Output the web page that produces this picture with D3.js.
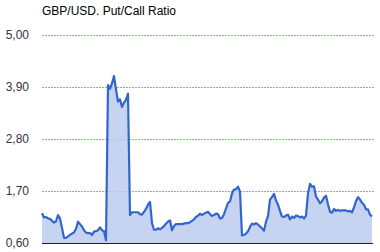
<!DOCTYPE html>
<html>
<head>
<meta charset="utf-8">
<script src="https://cdn.jsdelivr.net/npm/d3@7"></script>
<style>
  body { margin: 0; background: #fff; }
  text { font-family: "Liberation Sans", Arial, sans-serif; }
</style>
</head>
<body>
<svg width="380" height="252"></svg>
<script>
// Data
const title = "GBP/USD. Put/Call Ratio";
const yTicks = [0.6, 1.7, 2.8, 3.9, 5.0];
const ratio = [
  1.23, 1.14, 1.15, 1.12, 1.11, 1.07, 1.03, 1.06, 1.19, 1.12,
  0.92, 0.71, 0.71, 0.74, 0.77, 0.80, 0.82, 0.90, 1.05, 1.00,
  0.95, 0.87, 0.82, 0.81, 0.81, 0.77, 0.84, 0.85, 0.87, 0.93,
  0.87, 0.85, 0.66, 3.94, 3.86, 3.98, 4.13, 3.85, 3.59, 3.64,
  3.48, 3.57, 3.63, 3.76, 1.19, 1.25, 1.25, 1.25, 1.25, 1.21,
  1.20, 1.26, 1.32, 1.41, 1.47, 1.02, 0.88, 0.88, 0.91, 0.89,
  0.92, 0.96, 1.01, 1.05, 1.08, 0.87, 0.96, 1.00, 1.00, 1.00,
  1.00, 1.01, 1.02, 1.02, 1.04, 1.07, 1.10, 1.15, 1.18, 1.22,
  1.19, 1.22, 1.24, 1.26, 1.21, 1.17, 1.19, 1.22, 1.21, 1.12,
  1.13, 1.21, 1.33, 1.45, 1.48, 1.65, 1.73, 1.74, 1.79, 1.69,
  0.76, 0.77, 0.80, 0.85, 0.94, 1.01, 0.99, 1.02, 0.99, 0.95,
  0.91, 0.86, 1.05, 1.17, 1.52, 1.57, 1.64, 1.50, 1.41, 1.28,
  1.16, 1.15, 1.18, 1.20, 1.10, 1.16, 1.13, 1.18, 1.17, 1.14,
  1.16, 1.12, 1.18, 1.65, 1.85, 1.79, 1.80, 1.58, 1.52, 1.44,
  1.48, 1.56, 1.60, 1.42, 1.26, 1.24, 1.32, 1.28, 1.30, 1.28,
  1.29, 1.29, 1.29, 1.27, 1.28, 1.25, 1.35, 1.49, 1.57, 1.52,
  1.45, 1.41, 1.31, 1.31, 1.20, 1.16
];

const svg = d3.select("svg");
const plotLeft = 42, plotRight = 372, plotTop = 35, plotBottom = 243;

const x = d3.scaleLinear().domain([0, ratio.length - 1]).range([plotLeft, plotRight]);
const y = d3.scaleLinear().domain([0.6, 5.0]).range([plotBottom, plotTop]);
const fmt = v => d3.format(".2f")(v).replace(".", ",");

// title
svg.append("text")
    .attr("x", 42)
    .attr("y", 15)
    .style("font-size", "12px")
    .style("fill", "#000")
    .text(title);

// grid lines
svg.append("g")
    .selectAll("line")
    .data(yTicks.slice(1))
    .enter().append("line")
    .attr("x1", plotLeft)
    .attr("x2", plotRight + 3)
    .attr("y1", d => Math.round(y(d)) + 0.5)
    .attr("y2", d => Math.round(y(d)) + 0.5)
    .style("stroke", "#c88fd0")
    .style("stroke-width", 1)
    .style("stroke-dasharray", "2,1");

// y tick labels
svg.append("g")
    .selectAll("text")
    .data(yTicks)
    .enter().append("text")
    .attr("x", 29)
    .attr("y", d => y(d))
    .attr("dy", "0.35em")
    .attr("text-anchor", "end")
    .style("font-size", "12px")
    .style("fill", "#333344")
    .text(fmt);

// area + line
const area = d3.area()
    .x((d, i) => x(i))
    .y0(y(0.6))
    .y1(d => y(d));
const line = d3.line()
    .x((d, i) => x(i))
    .y(d => y(d));

svg.append("path")
    .datum(ratio)
    .attr("d", area)
    .style("fill", "#bccdf0")
    .style("opacity", 0.85);

svg.append("path")
    .datum(ratio)
    .attr("d", line)
    .style("fill", "none")
    .style("stroke", "#3366cc")
    .style("stroke-width", 2.2)
    .style("stroke-linejoin", "round");

// baseline
svg.append("line")
    .attr("x1", plotLeft)
    .attr("x2", plotRight + 1)
    .attr("y1", plotBottom + 0.5)
    .attr("y2", plotBottom + 0.5)
    .style("stroke", "#222")
    .style("stroke-width", 1);
</script>
</body>
</html>
